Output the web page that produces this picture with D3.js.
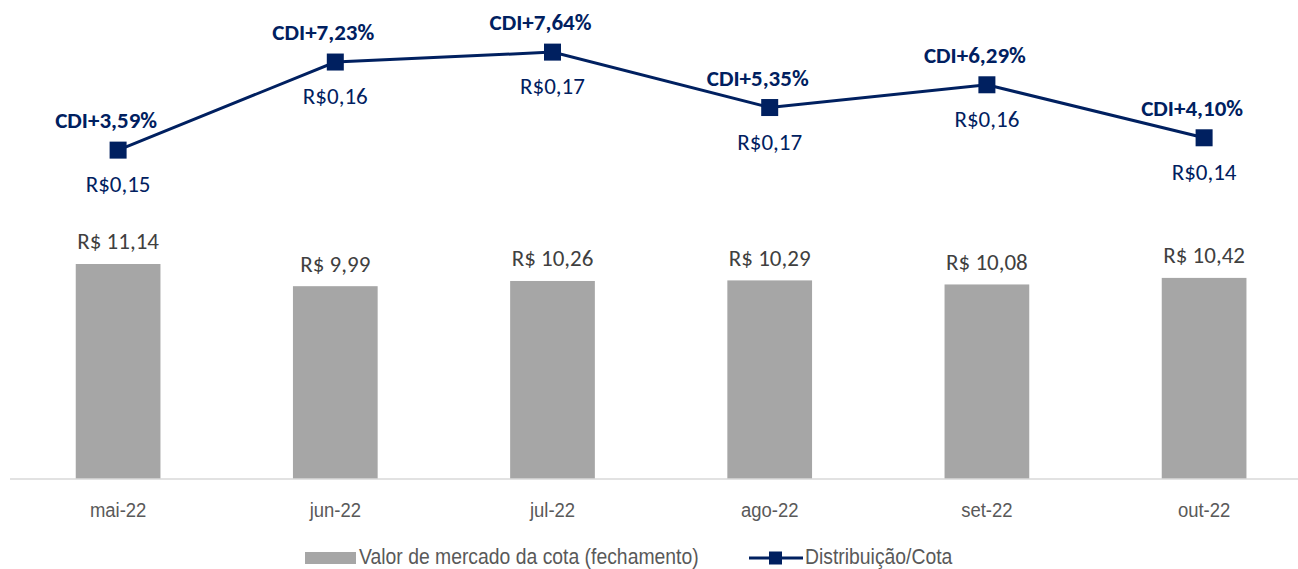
<!DOCTYPE html>
<html>
<head>
<meta charset="utf-8">
<script src="https://cdn.jsdelivr.net/npm/d3@7"></script>
<style>
  body { margin: 0; background: #fff; }
  svg { display: block; }
</style>
</head>
<body>
<script>
// ---- data ----
const months = ["mai-22", "jun-22", "jul-22", "ago-22", "set-22", "out-22"];
const cotaValues = [11.14, 9.99, 10.26, 10.29, 10.08, 10.42];
const cdiSpread = [3.59, 7.23, 7.64, 5.35, 6.29, 4.10];
const distribution = [0.15, 0.16, 0.17, 0.17, 0.16, 0.14];
const legendLabels = ["Valor de mercado da cota (fechamento)", "Distribuição/Cota"];

const width = 1298, height = 569;
const navy = "#002060";
const barGrey = "#a6a6a6";
const calibri = "Carlito, Calibri, Lato, sans-serif";
const narrow = "'Liberation Sans Narrow', 'Arial Narrow', 'Liberation Sans', Arial, sans-serif";

const fmt2 = v => v.toFixed(2).replace(".", ",");

// svg canvas
const svg = d3.select("body").append("svg")
    .attr("width", width)
    .attr("height", height);

// scales
const x = d3.scaleBand().domain(months).range([9.5, 1312.7]).paddingInner(0.61).paddingOuter(0.305);
const y = d3.scaleLinear().domain([0, 25]).range([479, -3.5]);
const y2 = d3.scaleLinear().domain([-10, 10]).range([479, -5]);
const cx = m => x(m) + x.bandwidth() / 2;

// ---- bars ----
svg.selectAll("rect.bar")
    .data(cotaValues).enter()
    .append("rect")
    .attr("class", "bar")
    .attr("fill", barGrey)
    .attr("x", (d, i) => x(months[i]))
    .attr("y", d => y(d))
    .attr("width", x.bandwidth())
    .attr("height", d => y(0) - y(d));

svg.selectAll("text.barlabel")
    .data(cotaValues).enter()
    .append("text")
    .attr("class", "barlabel")
    .attr("x", (d, i) => cx(months[i]))
    .attr("y", d => y(d) - 14.5)
    .attr("text-anchor", "middle")
    .attr("font-family", calibri)
    .attr("font-size", 23)
    .attr("fill", "#404040")
    .text(d => "R$ " + fmt2(d));

// ---- x axis ----
const xAxis = d3.axisBottom(x).tickSize(0).tickPadding(23);
const gx = svg.append("g").attr("transform", "translate(0,479)").call(xAxis);
gx.select(".domain").remove();
gx.append("line")
    .attr("x1", 10).attr("x2", width)
    .attr("stroke", "#d9d9d9").attr("stroke-width", 1.5);
gx.selectAll(".tick text")
    .attr("font-family", narrow)
    .attr("font-size", 21)
    .attr("fill", "#595959")
    .attr("transform", "scale(0.88,1)");

// ---- line ----
const line = d3.line()
    .x((d, i) => cx(months[i]))
    .y(d => y2(d));

svg.append("path")
    .datum(cdiSpread)
    .attr("fill", "none")
    .attr("stroke", navy)
    .attr("stroke-width", 3)
    .attr("d", line);

const mk = 17;
svg.selectAll("rect.marker")
    .data(cdiSpread).enter()
    .append("rect")
    .attr("class", "marker")
    .attr("fill", navy)
    .attr("x", (d, i) => cx(months[i]) - mk / 2)
    .attr("y", d => y2(d) - mk / 2)
    .attr("width", mk)
    .attr("height", mk);

svg.selectAll("text.cdi")
    .data(cdiSpread).enter()
    .append("text")
    .attr("class", "cdi")
    .attr("x", (d, i) => cx(months[i]) - 12)
    .attr("y", d => y2(d) - 22)
    .attr("text-anchor", "middle")
    .attr("font-family", calibri)
    .attr("font-weight", "bold")
    .attr("font-size", 23)
    .attr("fill", navy)
    .text(d => "CDI+" + fmt2(d) + "%");

svg.selectAll("text.dist")
    .data(distribution).enter()
    .append("text")
    .attr("class", "dist")
    .attr("x", (d, i) => cx(months[i]))
    .attr("y", (d, i) => y2(cdiSpread[i]) + 42)
    .attr("text-anchor", "middle")
    .attr("font-family", calibri)
    .attr("font-size", 23)
    .attr("fill", navy)
    .text(d => "R$" + fmt2(d));

// ---- legend ----
const legend = svg.append("g").attr("class", "legend");
legend.append("rect")
    .attr("x", 305).attr("y", 552)
    .attr("width", 51).attr("height", 12)
    .attr("fill", barGrey);
legend.append("g")
    .attr("transform", "translate(359,564) scale(0.88,1)")
  .append("text")
    .attr("font-family", narrow)
    .attr("font-size", 22)
    .attr("fill", "#595959")
    .text(legendLabels[0]);

legend.append("line")
    .attr("x1", 749).attr("x2", 803)
    .attr("y1", 558).attr("y2", 558)
    .attr("stroke", navy).attr("stroke-width", 3);
legend.append("rect")
    .attr("x", 769).attr("y", 551.5)
    .attr("width", 13).attr("height", 13)
    .attr("fill", navy);
legend.append("g")
    .attr("transform", "translate(805,564) scale(0.88,1)")
  .append("text")
    .attr("font-family", narrow)
    .attr("font-size", 22)
    .attr("fill", "#595959")
    .text(legendLabels[1]);
</script>
</body>
</html>
